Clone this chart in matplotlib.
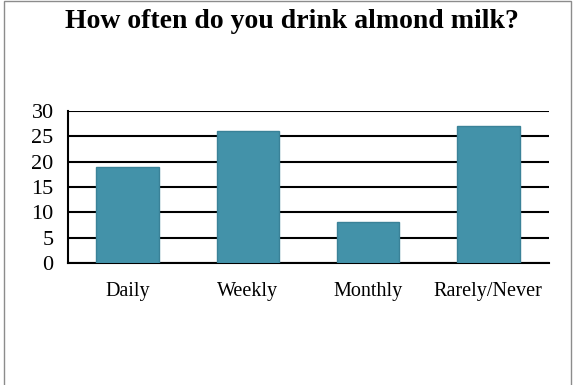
import numpy as np
import matplotlib.pyplot as plt
from matplotlib.patches import Rectangle

# survey answers
categories = ['Daily', 'Weekly', 'Monthly', 'Rarely/Never']
counts = [19, 26, 8, 27]
yticks = [0, 5, 10, 15, 20, 25, 30]

plt.rcParams['font.family'] = ['Liberation Serif', 'DejaVu Serif']

fig = plt.figure(figsize=(5.73, 3.85), dpi=100)

# thin grey frame round the figure (open at the bottom)
fig.add_artist(Rectangle((4 / 573, -0.1), 567 / 573, 1.1 - 1 / 385,
                         transform=fig.transFigure, fill=False,
                         edgecolor='#8c8c8c', linewidth=1.0))

ax = fig.add_axes([67.5 / 573, 1 - 263 / 385, 481 / 573, 152 / 385])

x = np.arange(len(categories))
ax.bar(x, counts, width=0.52, color='#4392a9', edgecolor='#3a8298',
       linewidth=1.0, zorder=3)

ax.set_ylim(0, 30)
ax.set_xlim(-0.5, len(categories) - 0.5)
ax.set_yticks(yticks)
ax.yaxis.grid(True, color='black', linewidth=1.5, zorder=0)
ax.set_axisbelow(True)

for side in ['top', 'right']:
    ax.spines[side].set_visible(False)
ax.spines['left'].set_linewidth(1.5)
ax.spines['bottom'].set_linewidth(1.5)

ax.set_xticks(x)
ax.set_xticklabels(categories, fontsize=14.5)
ax.tick_params(axis='x', length=0, pad=13.5)
ax.tick_params(axis='y', length=0, pad=10, labelsize=16)

fig.text(0.51, 1 - 22 / 385, 'How often do you drink almond milk?',
         ha='center', va='center', fontsize=20, fontweight='bold')

fig.savefig('out.png', dpi=100)
